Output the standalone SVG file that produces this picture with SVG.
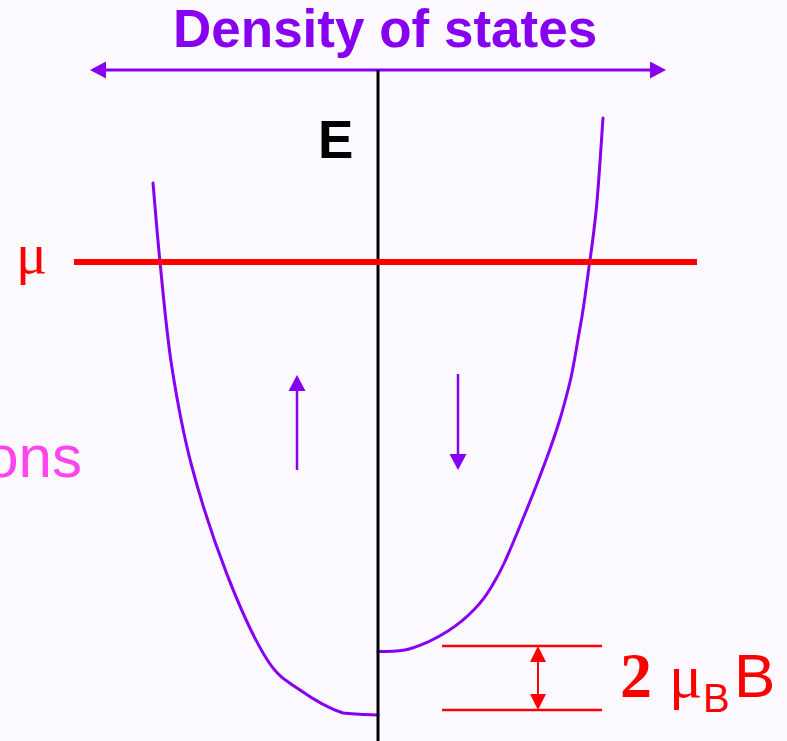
<svg xmlns="http://www.w3.org/2000/svg" width="787" height="741" viewBox="0 0 787 741">
  <defs>
    <style>
      .purple { stroke: #8800F0; fill: none; }
      .curve { stroke: #8800F0; stroke-width: 3; fill: none; stroke-linejoin: round; stroke-linecap: round; }
      .red { stroke: #FF0000; fill: none; }
      .sans { font-family: "Liberation Sans", Arial, sans-serif; }
      .serif { font-family: "Liberation Serif", "Times New Roman", serif; }
    </style>
    <marker id="ap" markerUnits="userSpaceOnUse" markerWidth="16" markerHeight="17" refX="0" refY="8.5" orient="auto-start-reverse" viewBox="0 0 16 17">
      <path d="M0,0 L16,8.5 L0,17 Z" fill="#8800F0"/>
    </marker>
    <marker id="ar" markerUnits="userSpaceOnUse" markerWidth="16" markerHeight="16" refX="0" refY="8" orient="auto-start-reverse" viewBox="0 0 16 16">
      <path d="M0,0 L16,8 L0,16 Z" fill="#FF0000"/>
    </marker>
  </defs>
  <rect x="0" y="0" width="787" height="741" fill="#FCFAFF"/>

  <g id="title">
    <text x="173" y="47" class="sans" font-size="53" font-weight="bold" fill="#8800F0">Density of states</text>
  </g>

  <g id="energy-label">
    <text x="318" y="158" class="sans" font-size="53" font-weight="bold" fill="#000000">E</text>
  </g>

  <g id="mu-label">
    <text x="16" y="273" class="serif" font-size="58" fill="#FF0000">μ</text>
  </g>

  <g id="electrons-label">
    <text x="82" y="477" class="sans" font-size="60" text-anchor="end" fill="#FF44F0">ons</text>
  </g>

  <g id="spin-up-band">
    <path class="curve" d="M153,183 C154.2,196.2 156.9,231.5 160,262 C163.1,292.5 166.4,332 171.7,366 C177,400 182.5,431.4 191.7,466 C200.9,500.6 214.2,541.4 226.7,573.6 C239.2,605.8 254.5,639.6 266.7,659 C278.9,678.4 287.3,681 300,690 C312.7,699 330,708.8 343,713 C356,714.5 372.2,714.7 378,715"/>
  </g>

  <g id="spin-down-band">
    <path class="curve" d="M603,118 C601.9,133.2 598.7,185 596.3,209 C593.9,233 592.5,242.7 589.7,262 C586.9,281.3 584.5,303.6 580.5,325 C576.5,346.4 573.9,366.5 569.5,384 C566.25,397 563.2,408.5 559.7,420 C554.7,436.5 549.9,449.6 544.7,463.6 C538.4,480.6 532,497 524.7,514.5 C517.5,532 511.5,547 504.7,562 C499,574.5 495.5,580 491.3,587 C486,596 481.5,602 474.7,609 C466,618 457.5,625 448,631 C441,635.5 435.5,638.5 428,642 C420,645.5 413,648.6 404.7,650 C396,651.4 385,651.6 378,651.6"/>
  </g>

  <g id="connectors">
    <line id="dos-axis" class="purple" x1="106" y1="70" x2="650" y2="70" stroke-width="3" marker-start="url(#ap)" marker-end="url(#ap)"/>
    <line id="energy-axis" x1="378" y1="70" x2="378" y2="741" stroke="#000000" stroke-width="3"/>
    <line id="chemical-potential" class="red" x1="74" y1="262" x2="697" y2="262" stroke-width="6"/>
    <line id="spin-up-arrow" class="purple" x1="297" y1="470" x2="297" y2="391" stroke-width="2.5" marker-end="url(#ap)"/>
    <line id="spin-down-arrow" class="purple" x1="458" y1="374" x2="458" y2="454" stroke-width="2.5" marker-end="url(#ap)"/>
    <line id="split-top" class="red" x1="442" y1="646" x2="602" y2="646" stroke-width="2.5"/>
    <line id="split-bottom" class="red" x1="442" y1="710" x2="602" y2="710" stroke-width="2.5"/>
    <line id="split-arrow" class="red" x1="538" y1="662" x2="538" y2="694" stroke-width="2" marker-start="url(#ar)" marker-end="url(#ar)"/>
  </g>

  <g id="splitting-label">
    <text y="697" fill="#FF0000"><tspan x="620" class="serif" font-size="64" font-weight="bold">2</tspan><tspan x="669" class="serif" font-size="62">μ</tspan><tspan x="703" y="712" class="sans" font-size="40">B</tspan><tspan x="734" y="697" class="sans" font-size="62">B</tspan></text>
  </g>
</svg>
